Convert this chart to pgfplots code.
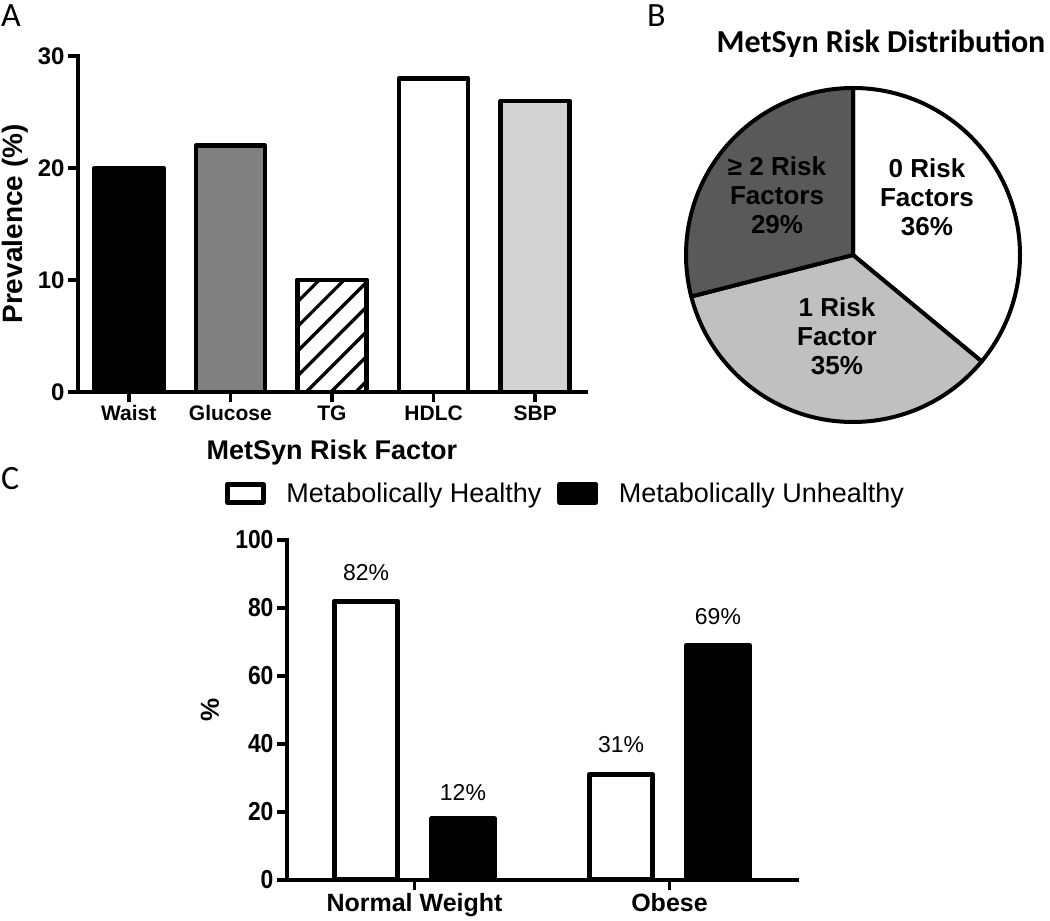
\documentclass[border=0pt]{standalone}
\usepackage{pgfplots}
\pgfplotsset{compat=1.18}
\usepackage{fontspec}
\setmainfont{Liberation Sans}
\newfontfamily\calibri{Carlito}
\newfontfamily\narrowfont[FakeStretch=0.88]{Liberation Sans}
\usetikzlibrary{patterns.meta}
\definecolor{midgray}{HTML}{808080}
\definecolor{lightbar}{HTML}{D3D3D3}
\definecolor{pielight}{HTML}{C0C0C0}
\definecolor{piedark}{HTML}{595959}
\newcommand{\fs}[1]{\fontsize{#1}{#1}\selectfont}
% pie data (percent)
\def\pieA{36}\def\pieB{35}\def\pieC{29}
\def\angA{90}
\pgfmathsetmacro\angB{\angA-3.6*\pieA}
\pgfmathsetmacro\angC{\angB-3.6*\pieB}
\pgfmathsetmacro\angD{\angC-3.6*\pieC}
\pgfplotsset{
  gp/.style={
    scale only axis, anchor=south west, clip=false,
    axis x line*=bottom, axis y line*=left,
    axis line style={-, line width=4pt, line cap=rect},
    tick align=outside, major tick length=10pt,
    tick style={line width=3.5pt, black},
    /pgf/number format/assume math mode=true,
  }
}
\begin{document}
\begin{tikzpicture}
\path[use as bounding box] (0pt,0pt) rectangle (1050pt,921pt);
\node[anchor=base west, inner sep=0] at (1pt,894pt) {\calibri\fs{34}A};
\node[anchor=base west, inner sep=0] at (647pt,894pt) {\calibri\fs{34}B};
\node[anchor=base west, inner sep=0] at (1pt,431pt) {\calibri\fs{34}C};
\node[anchor=base, inner sep=0] at (881pt,868pt) {\calibri\bfseries\fs{32}MetSyn Risk Distribution};
% ---------------- Panel A
\begin{axis}[gp, at={(78pt,529pt)}, width=508pt, height=336pt,
  xmin=-0.5, xmax=4.5, ymin=0, ymax=30,
  xtick={0,1,2,3,4}, xticklabels={Waist,Glucose,TG,HDLC,SBP},
  ytick={0,10,20,30},
  xticklabel style={font=\bfseries\fs{21}, text height=15pt, text depth=4pt},
  yticklabel style={font=\bfseries\fs{24}},
  xlabel={MetSyn Risk Factor},
  xlabel style={font=\bfseries\fs{27}, at={(axis description cs:0.5,-0.202)}, anchor=base},
  ylabel={Prevalence (\%)},
  ylabel style={font=\bfseries\fs{28}, at={(axis description cs:-0.124,0.5)}, anchor=center},
  ybar, bar width=0.68, bar shift=0pt,
  every axis plot/.append style={draw=black, line width=4.5pt, line join=round},
]
\addplot[fill=black] coordinates {(0,20)};
\addplot[fill=midgray] coordinates {(1,22)};
\addplot[fill=white, postaction={pattern={Lines[angle=45,distance=17.5pt,line width=3.2pt]}}] coordinates {(2,10)};
\addplot[fill=white] coordinates {(3,28)};
\addplot[fill=lightbar] coordinates {(4,26)};
\end{axis}
% ---------------- Panel B
\begin{axis}[at={(853pt,666pt)}, anchor=center, scale only axis, width=334pt, height=334pt,
  xmin=-1, xmax=1, ymin=-1, ymax=1, hide axis, clip=false]
\filldraw[fill=white, draw=black, line width=4pt, line join=round] (axis cs:0,0) -- ++(\angA:167pt) arc[start angle=\angA, end angle=\angB, radius=167pt] -- cycle;
\filldraw[fill=pielight, draw=black, line width=4pt, line join=round] (axis cs:0,0) -- ++(\angB:167pt) arc[start angle=\angB, end angle=\angC, radius=167pt] -- cycle;
\filldraw[fill=piedark, draw=black, line width=4pt, line join=round] (axis cs:0,0) -- ++(\angC:167pt) arc[start angle=\angC, end angle=\angD, radius=167pt] -- cycle;
\node[align=center, font=\bfseries\fs{26}, execute at begin node=\setlength{\baselineskip}{29pt}] at (axis cs:0.443,0.347) {0 Risk\\Factors\\36\%};
\node[align=center, font=\bfseries\fs{26}, execute at begin node=\setlength{\baselineskip}{29pt}] at (axis cs:-0.455,0.359) {≥ 2 Risk\\Factors\\29\%};
\node[align=center, font=\bfseries\fs{26}, execute at begin node=\setlength{\baselineskip}{29pt}] at (axis cs:-0.096,-0.485) {1 Risk\\Factor\\35\%};
\end{axis}
% ---------------- Panel C
\begin{axis}[gp, at={(287pt,41pt)}, width=510pt, height=340pt,
  xmin=-0.5, xmax=1.5, ymin=0, ymax=100,
  xtick={0,1}, xticklabels={Normal Weight,Obese},
  ytick={0,20,40,60,80,100},
  xticklabel style={font=\bfseries\fs{25}},
  yticklabel style={font=\narrowfont\bfseries\fs{26}},
  ylabel={\%},
  ylabel style={font=\bfseries\fs{26}, at={(axis description cs:-0.151,0.5)}, anchor=center},
  ybar, bar width=0.25,
  every axis plot/.append style={draw=black, line width=5pt, line join=round},
  legend columns=2,
  legend style={at={(axis description cs:0.544,1.138)}, anchor=center, draw=none, fill=none,
    font=\fs{27}, nodes={inner sep=0pt},
    /tikz/every even column/.append style={column sep=16pt}},
  legend image code/.code={\draw[#1, line width=5pt] (2.5pt,-9pt) rectangle (38.5pt,9pt); \path (59pt,0pt);},
]
\addplot[fill=white, bar shift=-0.19] coordinates {(0,82) (1,31)};
\addlegendentry{Metabolically Healthy}
\addplot[fill=black, bar shift=0.19] coordinates {(0,18) (1,69)};
\addlegendentry{Metabolically Unhealthy}
\node[anchor=base, font=\fs{23}] at (axis cs:-0.19,88) {82\%};
\node[anchor=base, font=\fs{23}] at (axis cs:0.19,23.5) {12\%};
\node[anchor=base, font=\fs{23}] at (axis cs:0.81,37.4) {31\%};
\node[anchor=base, font=\fs{23}] at (axis cs:1.19,75) {69\%};
\end{axis}
\end{tikzpicture}
\end{document}
